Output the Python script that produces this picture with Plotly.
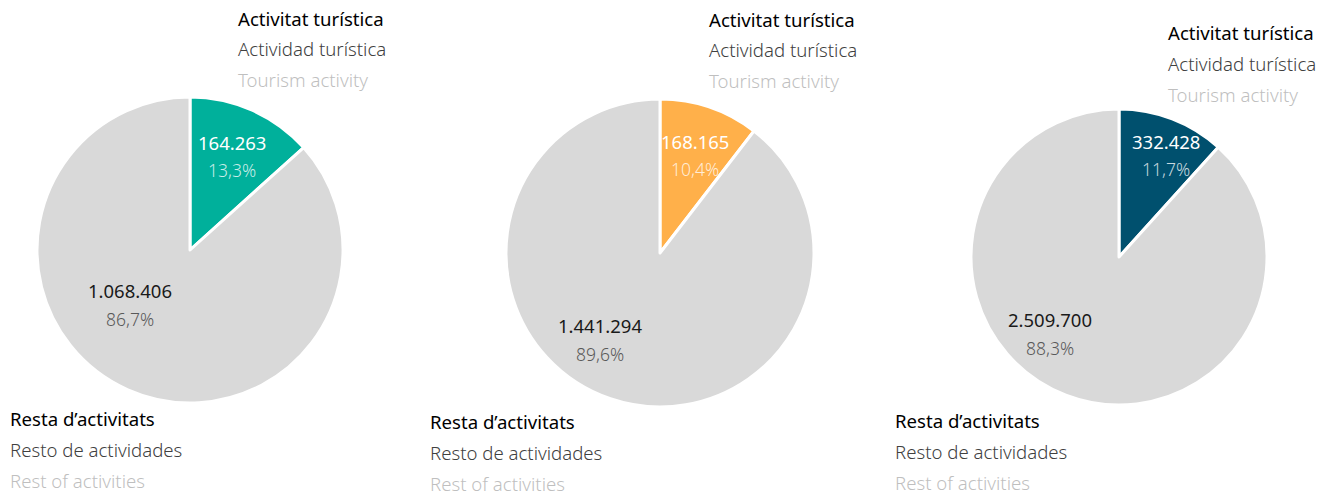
import plotly.graph_objects as go

W, H = 1336, 495

categories = ["Activitat turística", "Resta d'activitats"]
tourism_values = [164263, 168165, 332428]
rest_values = [1068406, 1441294, 2509700]
tourism_colors = ["#00B09B", "#FFB04A", "#00506E"]
rest_color = "#D9D9D9"

top_labels = ["Activitat turística", "Actividad turística", "Tourism activity"]
bottom_labels = ["Resta d\u2019activitats", "Resto de actividades", "Rest of activities"]

# layout (pixel geometry)
pie_geom = [(190, 250, 153), (660, 253, 154), (1119, 257, 148)]
top_pos = [(236, 18), (707, 19), (1166, 33)]
bottom_pos = [(8, 418), (428, 421), (893, 420)]
t_val_pos = [(232, 142), (695, 141), (1166, 141)]
r_val_pos = [(130, 290), (600, 325), (1050, 319)]

FONT = "Noto Sans"


def px(x):
    return x / W


def py(y):
    return 1 - y / H


def fmt_int(v):
    return f"{v:,}".replace(",", ".")


def fmt_pct(p):
    return f"{p:.1f}".replace(".", ",") + "%"


fig = go.Figure()
annotations = []
for i in range(3):
    cx, cy, r = pie_geom[i]
    vals = [tourism_values[i], rest_values[i]]
    fig.add_trace(go.Pie(
        labels=categories,
        values=vals,
        sort=False,
        direction="clockwise",
        rotation=0,
        textinfo="none",
        hoverinfo="label+value+percent",
        marker=dict(colors=[tourism_colors[i], rest_color], line=dict(color="white", width=3)),
        domain=dict(x=[px(cx - r), px(cx + r)], y=[py(cy + r), py(cy - r)]),
        showlegend=False,
    ))
    total = sum(vals)
    tp = 100 * vals[0] / total
    rp = 100 - tp

    # slice labels
    tx, ty = t_val_pos[i]
    annotations.append(dict(x=px(tx), y=py(ty), text=fmt_int(vals[0]), showarrow=False,
                            xanchor="center", yanchor="middle",
                            font=dict(family=FONT, size=18.5, color="white")))
    annotations.append(dict(x=px(tx), y=py(ty + 28), text=fmt_pct(tp), showarrow=False,
                            xanchor="center", yanchor="middle",
                            font=dict(family=FONT, size=17.5, color="rgba(255,255,255,0.78)", weight=300)))
    rx, ry = r_val_pos[i]
    annotations.append(dict(x=px(rx), y=py(ry), text=fmt_int(vals[1]), showarrow=False,
                            xanchor="center", yanchor="middle",
                            font=dict(family=FONT, size=18.5, color="#1A1A1A")))
    annotations.append(dict(x=px(rx), y=py(ry + 29), text=fmt_pct(rp), showarrow=False,
                            xanchor="center", yanchor="middle",
                            font=dict(family=FONT, size=17.5, color="#595959", weight=300)))

    # category labels
    colors3 = ["#000000", "#404040", "#BFBFBF"]
    weights = [400, 300, 300]
    lx, ly = top_pos[i]
    for k in range(3):
        annotations.append(dict(x=px(lx), y=py(ly + 30.5 * k), text=top_labels[k], showarrow=False,
                                xanchor="left", yanchor="middle",
                                font=dict(family=FONT, size=18.6, color=colors3[k], weight=weights[k])))
    bx, by = bottom_pos[i]
    for k in range(3):
        annotations.append(dict(x=px(bx), y=py(by + 31 * k), text=bottom_labels[k], showarrow=False,
                                xanchor="left", yanchor="middle",
                                font=dict(family=FONT, size=18.6, color=colors3[k], weight=weights[k])))

fig.update_layout(
    width=W, height=H,
    margin=dict(l=0, r=0, t=0, b=0),
    paper_bgcolor="white",
    plot_bgcolor="white",
    annotations=annotations,
)

fig.write_html("out.html", config={"displayModeBar": False},
               post_script="document.body.style.margin='0px';")
